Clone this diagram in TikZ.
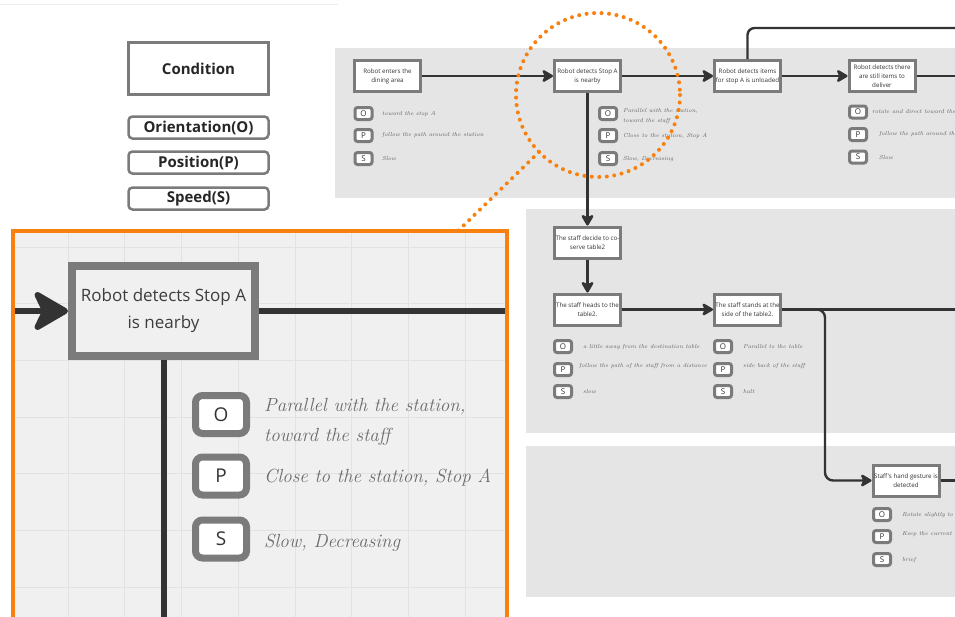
\documentclass[tikz,border=0pt]{standalone}
\usepackage{fontspec}
\newfontfamily\osans{Open Sans}
\usetikzlibrary{arrows.meta}

\definecolor{panel}{HTML}{E5E5E5}
\definecolor{zoomfill}{HTML}{F0F0F0}
\definecolor{gridline}{HTML}{E2E2E2}
\definecolor{boxgray}{HTML}{7B7B7B}
\definecolor{ink}{HTML}{333333}
\definecolor{notegray}{HTML}{5E5E5E}
\definecolor{bignotegray}{HTML}{6C6C6C}
\definecolor{hilite}{HTML}{F7800E}

\tikzset{
  flow/.style={draw=ink, line width=2.4pt, line join=round},
  tip/.style={-{Stealth[length=13pt,width=15pt,inset=3.5pt,round]}},
  stepbox/.style={draw=boxgray, line width=3pt, fill=white, minimum width=66pt,
    minimum height=31pt, inner sep=0pt, outer sep=1.5pt, align=center, text=ink,
    font=\osans\fontsize{6.2}{8.8}\selectfont},
  letter/.style={draw=boxgray, line width=3pt, rounded corners=2.5pt, fill=white,
    minimum width=17pt, minimum height=12pt, inner sep=0pt, text=ink,
    font=\osans\fontsize{8}{8}\selectfont},
  note/.style={anchor=west, inner sep=0pt, text=notegray, align=left,
    font=\itshape\fontsize{5.8}{10}\selectfont},
  legend/.style={draw=boxgray, line width=2.5pt, fill=white, minimum width=140pt,
    inner sep=0pt, text=black!85, font=\osans\bfseries\fontsize{15}{15}\selectfont},
  bigflow/.style={draw=ink, line width=6pt, line join=round},
  bigtip/.style={-{Stealth[length=40pt,width=46pt,inset=11pt,round]}},
  bigbox/.style={draw=boxgray, line width=8pt, fill=zoomfill, minimum width=183pt,
    minimum height=90pt, inner sep=0pt, outer sep=4pt, align=center, text=ink!95,
    font=\osans\fontsize{17}{27}\selectfont},
  bigletter/.style={draw=boxgray, line width=7pt, rounded corners=7pt, fill=white,
    minimum width=51pt, minimum height=38pt, inner sep=0pt, text=ink,
    font=\osans\fontsize{19}{19}\selectfont},
  bignote/.style={anchor=west, inner sep=0pt, text=bignotegray, align=left,
    font=\itshape\fontsize{19}{30}\selectfont},
  dots/.style={draw=hilite, line width=4pt, line cap=round, dash pattern=on 0pt off 7.5pt},
}

\begin{document}
\begin{tikzpicture}[x=1pt,y=-1pt]
\clip (0,0) rectangle (955,616);
\fill[white] (0,0) rectangle (955,616);
\draw[black!7, line width=0.8pt] (0,4.5) -- (338,4.5);

% grey lanes
\fill[panel] (335,48) rectangle (960,198);
\fill[panel] (526,209) rectangle (960,433);
\fill[panel] (526,446) rectangle (960,597);

% legend
\node[legend, minimum height=52pt] (cond) at (198.5,68.5) {Condition};
\node[legend, rounded corners=4pt, minimum height=22pt] (legO) at (198.5,127.5) {Orientation(O)};
\node[legend, rounded corners=4pt, minimum height=22pt] (legP) at (198.5,162.5) {Position(P)};
\node[legend, rounded corners=4pt, minimum height=22pt] (legS) at (198.5,198.5) {Speed(S)};

% events
\node[stepbox] (n1) at (387.5,76) {Robot enters the\\dining area};
\node[stepbox] (n2) at (587.5,76) {Robot detects Stop A\\is nearby};
\node[stepbox] (n3) at (747.5,76) {Robot detects items\\for stop A is unloaded};
\node[stepbox] (n4) at (882,76) {Robot detects there\\are still items to\\deliver};
\node[stepbox] (n5) at (587.5,242.5) {The staff decide to co-\\serve table2};
\node[stepbox] (n6) at (587.5,309.5) {The staff heads to the\\table2.};
\node[stepbox] (n7) at (747.5,309.5) {The staff stands at the\\side of the table2.};
\node[stepbox] (n8) at (906,480.5) {Staff's hand gesture is\\detected};

% loose ends leaving the sheet
\coordinate (outA) at (962,76);
\coordinate (loopR) at (962,28);
\coordinate (outB) at (962,309.5);
\coordinate (drop) at (825,400);
\coordinate (outC) at (962,480.5);

% connectors
\draw[flow,tip] (n1.east) -- (n2.west);
\draw[flow,tip] (n2.east) -- (n3.west);
\draw[flow,tip] (n3.east) -- (n4.west);
\draw[flow] (n4.east) -- (outA);
\draw[flow, rounded corners=7pt] (n3.north) |- (loopR);
\draw[flow,tip] (n2.south) -- (n5.north);
\draw[flow,tip] (n5.south) -- (n6.north);
\draw[flow,tip] (n6.east) -- (n7.west);
\draw[flow] (n7.east) -- (outB);
\draw[flow,tip,rounded corners=8pt] (n7.east) -| (drop) |- (n8.west);
\draw[flow] (n8.east) -- (outC);

% conditions: enters dining area
\node[letter] (o1) at (363.5,113.5) {O};
\node[letter] (p1) at (363.5,135.5) {P};
\node[letter] (s1) at (363.5,158.5) {S};
\node[note] (to1) at (382,113.5) {toward the stop A};
\node[note] (tp1) at (382,135.5) {follow the path around the station};
\node[note] (ts1) at (382,158.5) {Slow};

% conditions: Stop A nearby
\node[note] (to2) at (623,116) {Parallel with the station,\\toward the staff};
\node[note] (tp2) at (623,136) {Close to the station, Stop A};
\node[note] (ts2) at (623,159) {Slow, Decreasing};
\node[letter] (o2) at (608,113.5) {O};
\node[letter] (p2) at (608,135.5) {P};
\node[letter] (s2) at (608,158.5) {S};

% conditions: still items to deliver
\node[letter] (o4) at (858,112) {O};
\node[letter] (p4) at (858,134.5) {P};
\node[letter] (s4) at (858,157) {S};
\node[note] (to4) at (872,112) {rotate and direct toward the};
\node[note] (tp4) at (879,134) {follow the path around the};
\node[note] (ts4) at (879,158) {Slow};

% conditions: staff heads to table2
\node[letter] (o6) at (563,346.5) {O};
\node[letter] (p6) at (563,369.5) {P};
\node[letter] (s6) at (563,391.5) {S};
\node[note] (to6) at (583,347) {a little away from the destination table};
\node[note] (tp6) at (579,366) {follow the path of the staff from a distance};
\node[note] (ts6) at (583,392) {slow};

% conditions: staff stands at table2
\node[letter] (o7) at (723,346.5) {O};
\node[letter] (p7) at (723,369.5) {P};
\node[letter] (s7) at (723,391.5) {S};
\node[note] (to7) at (743,347) {Parallel to the table};
\node[note] (tp7) at (743,366) {side back of the staff};
\node[note] (ts7) at (743,392) {halt};

% conditions: hand gesture
\node[letter] (o8) at (882,514.5) {O};
\node[letter] (p8) at (882,536.5) {P};
\node[letter] (s8) at (882,559.5) {S};
\node[note] (to8) at (902,515) {Rotate slightly to};
\node[note] (tp8) at (902,534) {Keep the current};
\node[note] (ts8) at (902,560) {brief};

% enlarged detail
\begin{scope}
  \clip (13,231) rectangle (507,650);
  \fill[zoomfill] (13,231) rectangle (507,650);
  \foreach \i in {0,...,8}
    \draw[gridline, line width=1pt] (11.5+56.7*\i,231) -- (11.5+56.7*\i,650);
  \foreach \j in {0,...,6}
    \draw[gridline, line width=1pt] (13,247+56.7*\j) -- (507,247+56.7*\j);
  \node[bigbox] (zm) at (163.5,311) {Robot detects Stop A\\is nearby};
  \coordinate (zin) at (10,311);
  \coordinate (zout) at (505,311);
  \coordinate (zdown) at (163.5,650);
  \draw[bigflow,bigtip] (zin) -- (zm.west);
  \draw[bigflow] (zm.east) -- (zout);
  \draw[bigflow] (zm.south) -- (zdown);
  \node[bigletter] (zo) at (221,414.5) {O};
  \node[bigletter] (zp) at (221,476) {P};
  \node[bigletter] (zs) at (221,539) {S};
  \node[bignote] (zto) at (264,422) {Parallel with the station,\\toward the staff};
  \node[bignote] (ztp) at (264,478) {Close to the station, Stop A};
  \node[bignote] (zts) at (264,543) {Slow, Decreasing};
\end{scope}
\draw[hilite, line width=4pt] (13,231) rectangle (507,660);

% magnifier lens and its lead
\coordinate (lensC) at (598,95);
\coordinate (lensEdge) at (539,152);
\coordinate (zoomTop) at (458,231);
\draw[dots] (lensC) circle[radius=82];
\draw[dots] (lensEdge) -- (zoomTop);
\end{tikzpicture}
\end{document}
